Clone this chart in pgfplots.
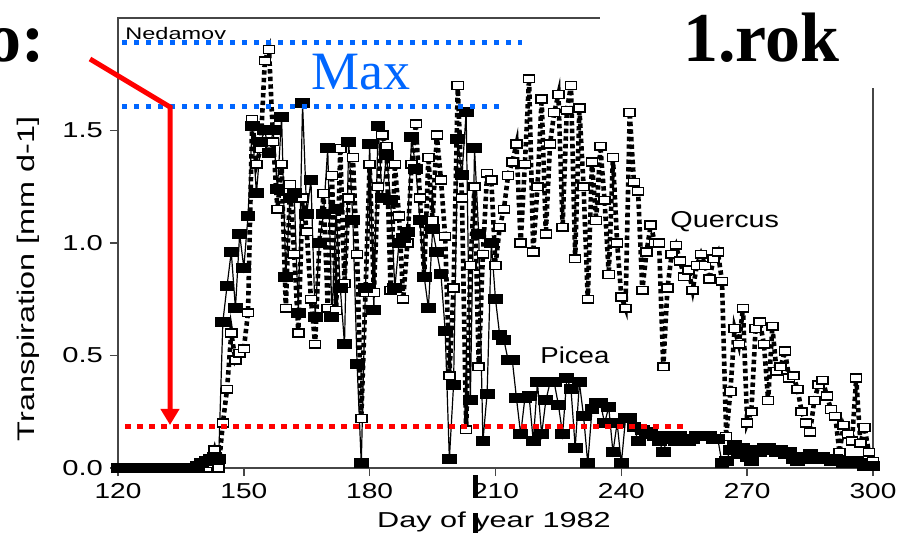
\documentclass[border=0pt]{standalone}
\usepackage{pgfplots}
\pgfplotsset{compat=1.18}
\usepackage{pgfplotstable}
\usepackage{graphicx}
\usepackage{fontspec}
\setmainfont{Liberation Sans}
\newfontfamily\tms{Liberation Serif}
\usetikzlibrary{arrows.meta}
\definecolor{maxblue}{RGB}{0,102,255}
\definecolor{axgray}{RGB}{70,70,70}

% Picea: daily transpiration, filled squares
\pgfplotstableread{
day picea
120 0.00
121 0.00
122 0.00
123 0.00
124 0.00
125 0.00
126 0.00
127 0.00
128 0.00
129 0.00
130 0.00
131 0.00
132 0.00
133 0.00
134 0.00
135 0.00
136 0.00
137 0.00
138 0.00
139 0.01
140 0.02
141 0.03
142 0.04
143 0.05
144 0.04
145 0.65
146 0.81
147 0.96
148 0.71
149 1.04
150 0.89
151 1.12
152 1.52
153 1.22
154 1.45
155 1.50
156 1.40
157 1.50
158 1.24
159 1.56
160 0.85
161 1.20
162 1.22
163 0.69
164 1.62
165 1.13
166 1.28
167 0.67
168 1.00
169 1.13
170 1.42
171 0.67
172 1.15
173 0.80
174 0.55
175 1.45
176 1.10
177 0.46
178 0.02
179 0.80
180 1.44
181 0.70
182 1.52
183 1.20
184 1.39
185 1.19
186 0.80
187 1.00
188 1.02
189 1.05
190 1.47
191 1.33
192 1.10
193 0.85
194 0.71
195 1.06
196 0.96
197 0.86
198 0.61
199 0.04
200 0.37
201 1.46
202 1.30
203 1.58
204 0.30
205 1.42
206 1.04
207 0.12
208 0.33
209 1.00
210 0.75
211 0.59
212 0.57
213 0.48
214 0.48
215 0.31
216 0.15
217 0.31
218 0.32
219 0.12
220 0.38
221 0.15
222 0.30
223 0.38
224 0.38
225 0.28
226 0.15
227 0.40
228 0.35
229 0.09
230 0.38
231 0.23
232 0.02
233 0.26
234 0.29
235 0.29
236 0.20
237 0.27
238 0.07
239 0.20
240 0.02
241 0.22
242 0.22
243 0.18
244 0.12
245 0.17
246 0.15
247 0.16
248 0.14
249 0.12
250 0.07
251 0.14
252 0.13
253 0.12
254 0.14
255 0.13
256 0.12
257 0.13
258 0.14
259 0.14
260 0.14
261 0.14
262 0.13
263 0.13
264 0.02
265 0.03
266 0.08
267 0.10
268 0.06
269 0.09
270 0.05
271 0.03
272 0.08
273 0.07
274 0.09
275 0.09
276 0.08
277 0.07
278 0.08
279 0.06
280 0.07
281 0.04
282 0.03
283 0.05
284 0.04
285 0.06
286 0.05
287 0.04
288 0.05
289 0.04
290 0.03
291 0.04
292 0.03
293 0.02
294 0.03
295 0.02
296 0.03
297 0.02
298 0.01
299 0.01
300 0.01
}\piceadata

% Quercus: daily transpiration, open squares
\pgfplotstableread{
day quercus
140 0.00
141 0.00
142 0.02
143 0.08
144 0.00
145 0.20
146 0.35
147 0.60
148 0.48
149 0.51
150 0.53
151 0.69
152 1.55
153 1.35
154 1.42
155 1.81
156 1.86
157 1.45
158 1.15
159 1.35
160 0.71
161 1.26
162 0.95
163 0.60
164 1.20
165 1.05
166 0.75
167 0.55
168 1.00
169 1.22
170 0.71
171 1.30
172 0.70
173 1.42
174 0.82
175 1.20
176 1.38
177 0.95
178 0.22
179 0.78
180 1.35
181 0.78
182 1.25
183 1.48
184 1.43
185 0.79
186 1.35
187 1.12
188 0.75
189 1.00
190 1.35
191 1.53
192 1.20
193 0.85
194 1.38
195 1.10
196 1.48
197 1.28
198 1.03
199 0.41
200 0.80
201 1.70
202 1.20
203 0.17
204 0.90
205 1.25
206 0.45
207 0.95
208 1.31
209 1.28
210 0.90
211 1.07
212 1.15
213 1.30
214 1.36
215 1.44
216 1.00
217 1.35
218 1.73
219 0.96
220 1.25
221 1.64
222 1.04
223 1.44
224 1.58
225 1.66
226 1.07
227 1.59
228 1.70
229 0.93
230 1.60
231 1.25
232 0.75
233 1.36
234 1.10
235 1.43
236 1.19
237 0.86
238 1.38
239 1.00
240 0.76
241 0.71
242 1.58
243 1.27
244 1.23
245 0.79
246 0.96
247 1.08
248 1.00
249 1.00
250 0.45
251 0.80
252 0.95
253 0.99
254 0.92
255 0.85
256 0.88
257 0.79
258 0.90
259 0.95
260 0.90
261 0.84
262 0.93
263 0.96
264 0.83
265 0.14
266 0.34
267 0.62
268 0.55
269 0.71
270 0.20
271 0.25
272 0.62
273 0.65
274 0.55
275 0.30
276 0.63
277 0.43
278 0.45
279 0.52
280 0.40
281 0.41
282 0.35
283 0.25
284 0.20
285 0.16
286 0.30
287 0.37
288 0.39
289 0.32
290 0.26
291 0.23
292 0.07
293 0.19
294 0.15
295 0.12
296 0.40
297 0.11
298 0.18
299 0.07
300 0.03
}\quercusdata

\begin{document}
\begin{tikzpicture}
\path[use as bounding box] (-59pt,-33pt) rectangle (390pt,234pt);
\begin{axis}[
    at={(0pt,0pt)}, anchor=south west,
    scale only axis,
    width=377.5pt, height=225pt,
    xmin=120, xmax=300, ymin=0, ymax=2,
    xtick={120,150,...,300},
    ytick={0,0.5,1,1.5},
    tick pos=left,
    tick align=outside,
    major tick length=4pt,
    axis line style={axgray, line width=0.8pt},
    tick style={axgray, line width=0.8pt},
    /pgf/number format/assume math mode=true,
    ticklabel style={font=\fontsize{10.8}{12}\selectfont},
    xticklabel={\scalebox{1.3}[1]{\pgfmathprintnumber{\tick}}},
    yticklabel={\scalebox{1.35}[1]{\pgfmathprintnumber[fixed,fixed zerofill,precision=1]{\tick}}},
    clip=false,
]
\addplot[black, line width=2.3pt, dash pattern=on 2.2pt off 1.6pt,
    mark=square*, mark size=1.9pt,
    mark options={solid, xscale=1.45, fill=white, draw=black, line width=0.75pt}]
    table[x=day, y=quercus] {\quercusdata};
\addplot[black, line width=0.6pt,
    mark=square*, mark size=2.2pt,
    mark options={xscale=1.55, fill=black}]
    table[x=day, y=picea] {\piceadata};
\end{axis}

% slide overlay
\fill[white] (241pt,190pt) rectangle (392pt,236pt);
\node[anchor=base west, inner sep=0pt, font=\tms\bfseries\fontsize{35}{40}\selectfont] at (282.5pt,203pt) {1.rok};
\node[anchor=base east, inner sep=0pt, font=\tms\bfseries\fontsize{35}{40}\selectfont] at (-36.5pt,203pt) {o:};

\node[anchor=base west, inner sep=0pt, font=\fontsize{8.4}{10}\selectfont] at (3.5pt,214pt) {\scalebox{1.4}[1]{Nedamov}};
\node[anchor=base west, inner sep=0pt, font=\fontsize{11.5}{13}\selectfont] at (276pt,120pt) {\scalebox{1.25}[1]{Quercus}};
\node[anchor=base west, inner sep=0pt, font=\fontsize{11.5}{13}\selectfont] at (211pt,52pt) {\scalebox{1.2}[1]{Picea}};

\node[rotate=90, font=\fontsize{12}{14}\selectfont] at (-45pt,94.5pt) {\scalebox{1.35}[1]{Transpiration [mm d-1]}};
\node[anchor=base, font=\fontsize{10.8}{12}\selectfont] at (188pt,-30pt) {\scalebox{1.42}[1]{Day of year 1982}};

\fill[black] (177.5pt,-3.5pt) rectangle (180pt,-15pt);
\fill[black] (177.5pt,-22.5pt) rectangle (180pt,-32.5pt);

\draw[maxblue, line width=2.5pt, dash pattern=on 2.5pt off 3.5pt] (2pt,212.5pt) -- (202pt,212.5pt);
\draw[maxblue, line width=2.5pt, dash pattern=on 2.5pt off 3.5pt] (2pt,180.5pt) -- (191pt,180.5pt);
\node[anchor=base, inner sep=0pt, text=maxblue, font=\tms\fontsize{27}{30}\selectfont] at (121.5pt,189pt) {Max};

\draw[red, line width=2.5pt, dash pattern=on 3pt off 3pt] (3.5pt,20.5pt) -- (282.5pt,20.5pt);
\draw[red, line width=2.5pt, -{Triangle[width=9pt,length=8pt]}] (-14pt,204.5pt) -- (26pt,180.5pt) -- (26pt,21.5pt);
\end{tikzpicture}
\end{document}
